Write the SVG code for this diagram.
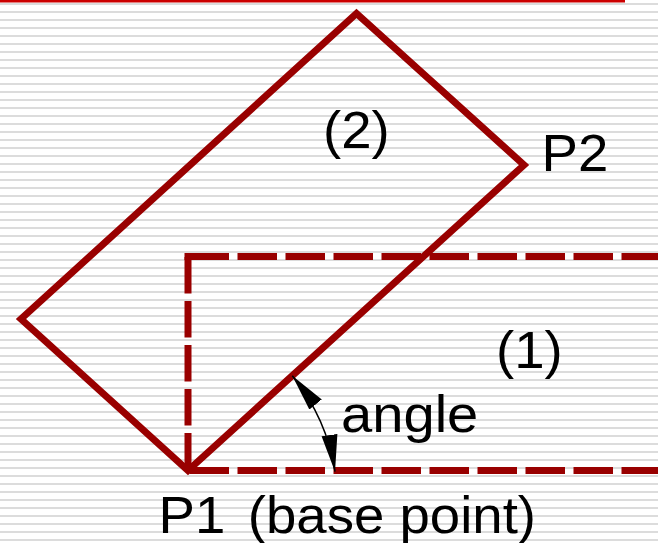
<svg xmlns="http://www.w3.org/2000/svg" width="658" height="543" viewBox="0 0 658 543">
<style>
.shape{fill:none;stroke:#990000;stroke-width:7}
.hdash{stroke-dasharray:39.5 8.5}
.vdash{stroke-dasharray:36.5 7.5}
.t{font-family:"Liberation Sans",Arial,sans-serif;font-size:51.5px;fill:#000}
</style>
<defs>
<pattern id="stripes" width="8" height="8" patternUnits="userSpaceOnUse" y="3">
<rect width="8" height="8" fill="#fff"/>
<rect width="8" height="2" fill="#dcdcdc"/>
</pattern>
<marker id="ah" markerUnits="userSpaceOnUse" markerWidth="38" markerHeight="18" refX="37" refY="9" orient="auto-start-reverse" viewBox="0 0 38 18">
<path d="M37 9 L0 1 L0 17 Z" fill="#000"/>
</marker>
</defs>
<rect width="658" height="543" fill="url(#stripes)"/>
<rect x="0" y="0" width="625" height="2.5" fill="#cc0000"/>
<g id="rect-1">
<path class="shape hdash" d="M189.5 470.5 H658"/>
<path class="shape hdash" d="M189.5 256.5 H658"/>
<path class="shape" d="M184.5 256.5 H190"/>
<path class="shape vdash" d="M188 257 V470"/>
<text class="t" transform="translate(496 368) scale(1.06 1)">(1)</text>
</g>
<g id="rect-2">
<path class="shape" d="M188 470.5 L524 165 L356.5 13.5 L21 319 Z"/>
<text class="t" transform="translate(323 148) scale(1.06 1)">(2)</text>
</g>
<g id="p2"><text class="t" transform="translate(541.5 171) scale(1.06 1)">P2</text></g>
<g id="angle"><text class="t" transform="translate(341 432) scale(1.09 1)">angle</text></g>
<g id="p1"><text class="t" transform="translate(158.5 532.5) scale(1.06 1)">P1 <tspan dx="7">(base point)</tspan></text></g>
<g id="connectors">
<path id="angle-arc" d="M292.3 375.7 Q327 418.6 335 471.7" fill="none" stroke="#000" stroke-width="1.5" marker-start="url(#ah)" marker-end="url(#ah)"/>
</g>
</svg>
